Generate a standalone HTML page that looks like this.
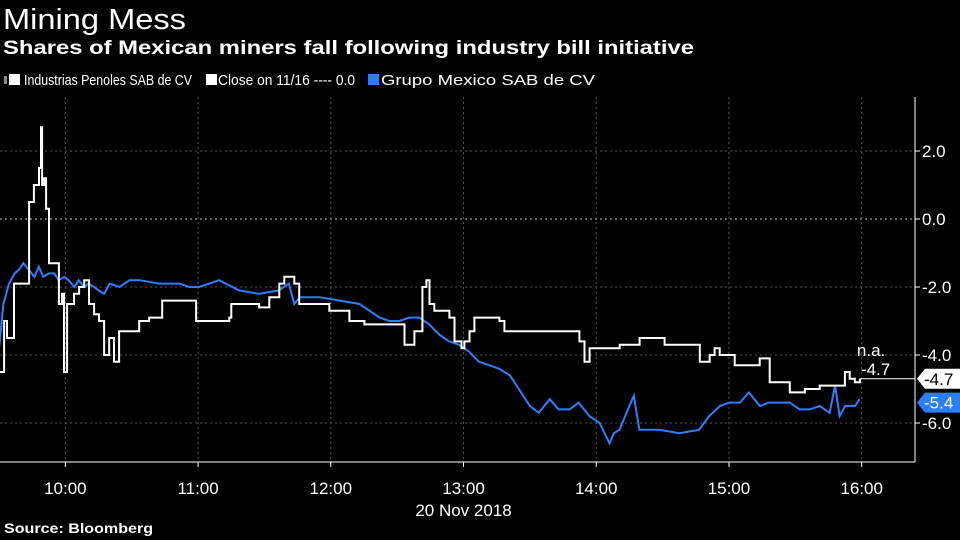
<!DOCTYPE html>
<html><head><meta charset="utf-8">
<style>
body{margin:0;background:#000;width:960px;height:540px;overflow:hidden;font-family:"Liberation Sans",sans-serif;color:#fff}
svg{position:absolute;left:0;top:0}
</style></head>
<body>
<svg id="chart" width="960" height="540">
<text x="3" y="29" font-size="29" fill="#fff" textLength="183" lengthAdjust="spacingAndGlyphs">Mining Mess</text>
<text x="3" y="54" font-size="19" font-weight="bold" fill="#fff" textLength="691" lengthAdjust="spacingAndGlyphs">Shares of Mexican miners fall following industry bill initiative</text>
<g font-size="15" fill="#fff">
<rect x="4" y="76" width="3" height="8" fill="#888"/>
<rect x="9" y="74" width="11" height="11" fill="#fff"/>
<text x="24" y="85" textLength="168" lengthAdjust="spacingAndGlyphs">Industrias Penoles SAB de CV</text>
<rect x="206" y="74" width="11" height="11" fill="#fff"/>
<text x="218" y="85" textLength="137" lengthAdjust="spacingAndGlyphs">Close on 11/16 ---- 0.0</text>
<rect x="368" y="74" width="11" height="11" fill="#2a7fff"/>
<text x="381" y="85" textLength="214" lengthAdjust="spacingAndGlyphs">Grupo Mexico SAB de CV</text>
</g>
<g id="grid"></g>
<g id="axes"></g>
<g id="series"></g>
<text x="4" y="533" font-size="14" font-weight="bold" fill="#fff" textLength="149" lengthAdjust="spacingAndGlyphs">Source: Bloomberg</text>
</svg>
<script>
const yTicks=[2,0,-2,-4,-6];
const xTickLabels=["10:00","11:00","12:00","13:00","14:00","15:00","16:00"];
const xTickMinutes=[30,90,150,210,270,330,390];
const penolesT=[0,2.3,3.6,6.8,11.3,13.6,15.8,18.1,19,19.5,20.4,21.3,22.6,24.9,27.1,28.5,29.4,30.8,33.9,36.2,38.5,40.7,43,45.2,47.5,49.8,52,54.3,58.8,63.4,67.9,73.8,79.2,86,89.1,104.1,105,117.6,122.2,126.7,129,133.5,135.7,144.8,149.3,156.1,158.4,165.2,181,183.3,187.8,190,191.4,193.2,194.6,196.8,203.6,205.9,209.1,210.4,212.7,214.9,226.2,228.5,257.9,262.4,264.7,267,271.5,280.6,289.6,298.6,300.9,312.2,316.8,321.3,323.5,325.8,332.6,339.4,343.9,348.4,357.5,364.3,371,380.1,382.4,384.6,386.9,389.2];
const penolesV=[-4.5,-3.0,-3.5,-1.9,-1.9,0.5,1.0,1.5,2.7,1.0,1.2,0.3,-1.3,-1.3,-2.5,-2.2,-4.5,-2.5,-2.2,-2.0,-1.8,-2.5,-2.8,-3.0,-4.0,-3.5,-4.2,-3.3,-3.3,-3.0,-2.9,-2.4,-2.4,-2.4,-3.0,-2.9,-2.5,-2.6,-2.3,-1.9,-1.7,-1.9,-2.5,-2.5,-2.7,-2.7,-3.0,-3.1,-3.1,-3.7,-3.3,-3.3,-2.0,-1.8,-2.5,-2.7,-2.9,-3.6,-3.8,-3.6,-3.3,-2.9,-3.0,-3.3,-3.3,-3.6,-4.2,-3.8,-3.8,-3.7,-3.5,-3.5,-3.7,-3.7,-4.2,-4.0,-3.8,-4.0,-4.3,-4.3,-4.1,-4.8,-5.1,-5.0,-4.9,-4.9,-4.5,-4.7,-4.8,-4.7];
const grupoT=[0,2,4.5,7,9,11,13.5,16,18,20,22.5,25,27,29.5,31.5,34,36,38.5,40.5,43,45,47.5,50,54.5,59,63.5,72.5,81.5,86,90.5,99.5,108.5,117.5,126.5,131,133.5,136,145,154,163,167.5,172,176.5,181,185.5,190,194.5,199,203.5,208,212.5,217,221.5,226,231,235,240,244,249,253,258,262,267,271.5,276,278,280.5,285,287,289.5,298.5,307.5,316.5,321,326,330,335,339,344,348,357.5,362,366.5,371,375.5,378,380,382.5,387,389];
const grupoV=[-3.8,-2.5,-1.9,-1.6,-1.5,-1.3,-1.5,-1.7,-1.4,-1.7,-1.6,-1.6,-1.8,-1.7,-1.8,-2.0,-1.8,-2.0,-1.9,-2.0,-2.1,-2.2,-1.9,-2.0,-1.8,-1.8,-1.9,-1.9,-2.0,-2.0,-1.8,-2.1,-2.2,-2.1,-1.9,-2.5,-2.3,-2.3,-2.4,-2.5,-2.7,-2.9,-3.0,-3.0,-2.9,-2.9,-3.1,-3.4,-3.6,-3.7,-3.9,-4.2,-4.3,-4.4,-4.6,-5.0,-5.5,-5.7,-5.3,-5.6,-5.6,-5.4,-5.8,-6.0,-6.6,-6.3,-6.2,-5.5,-5.2,-6.2,-6.2,-6.3,-6.2,-5.8,-5.5,-5.4,-5.4,-5.1,-5.5,-5.4,-5.4,-5.6,-5.6,-5.5,-5.7,-4.9,-5.8,-5.5,-5.5,-5.3];
const penolesLast=-4.7, grupoLast=-5.4;

const NS="http://www.w3.org/2000/svg";
const X0=-1,XS=2.212,Y0=219,YS=34,RIGHT=915,TOP=97,BOT=462;
const x=m=>X0+m*XS, y=v=>Y0-v*YS;
function mk(tag,attrs,parent){const e=document.createElementNS(NS,tag);for(const k in attrs)e.setAttribute(k,attrs[k]);parent.appendChild(e);return e;}
const grid=document.getElementById('grid'),axes=document.getElementById('axes'),series=document.getElementById('series');
yTicks.forEach(v=>{
  const l=mk('line',{x1:0,x2:RIGHT,y1:y(v),y2:y(v),stroke:v===0?'#ccc':'#555','stroke-dasharray':'2,3','stroke-width':1},grid);
  
  
  mk('line',{x1:RIGHT,x2:RIGHT+5,y1:y(v),y2:y(v),stroke:'#fff'},axes);
  const t=mk('text',{x:RIGHT+7,y:y(v)+6,'font-size':17,fill:'#fff'},axes);
  t.textContent=v.toFixed(1);
  
  
});
xTickMinutes.forEach((m,i)=>{
  const l=mk('line',{x1:x(m),x2:x(m),y1:TOP,y2:BOT,stroke:'#555','stroke-dasharray':'2,3'},grid);
  
  
  mk('line',{x1:x(m),x2:x(m),y1:BOT,y2:BOT+5,stroke:'#fff'},axes);
  const t=mk('text',{x:x(m),y:BOT+32,'font-size':17,fill:'#fff','text-anchor':'middle'},axes);
  t.textContent=xTickLabels[i];
  
  
});
mk('line',{x1:RIGHT,x2:RIGHT,y1:TOP,y2:BOT,stroke:'#fff'},axes);
mk('line',{x1:0,x2:RIGHT,y1:BOT,y2:BOT,stroke:'#fff'},axes);
const dl=mk('text',{x:x(210),y:516,'font-size':17,fill:'#fff','text-anchor':'middle'},axes);
dl.textContent='20 Nov 2018';


function line(T,V,color,name,step){
  let d='';
  T.forEach((t,i)=>{
    if(i===0){d+='M'+x(t).toFixed(1)+','+y(V[i]).toFixed(1);return;}
    if(step) d+='L'+x(t).toFixed(1)+','+y(V[i-1]).toFixed(1);
    d+='L'+x(t).toFixed(1)+','+y(V[i]).toFixed(1);
  });
  const p=mk('path',{d,fill:'none',stroke:color,'stroke-width':2,'stroke-linejoin':'miter'},series);
  
  
}
line(grupoT,grupoV,'#2a7fff','grupo-mexico-line',false);
line(penolesT,penolesV,'#fff','penoles-line',true);
const lx=x(penolesT[penolesT.length-1]);
mk('line',{x1:lx,x2:RIGHT,y1:y(penolesLast),y2:y(penolesLast),stroke:'#fff'},series);
const na=mk('text',{x:lx-3,y:y(penolesLast)-23,'font-size':17,fill:'#fff'},series);
na.textContent='n.a.';


const cl=mk('text',{x:lx+1,y:y(penolesLast)-4,'font-size':17,fill:'#fff'},series);
cl.textContent=penolesLast.toFixed(1);


function tag(v,bg,fg,name){
  const yy=y(v);
  const g=mk('g',{},series);
  
  
  mk('path',{d:`M${RIGHT+2},${yy} L${RIGHT+10},${yy-10} L960,${yy-10} L960,${yy+10} L${RIGHT+10},${yy+10} Z`,fill:bg},g);
  const t=mk('text',{x:RIGHT+9,y:yy+6,'font-size':17,fill:fg},g);
  t.textContent=v.toFixed(1);
}
tag(grupoLast,'#2a7fff','#fff','grupo-last-tag');
tag(penolesLast,'#fff','#000','penoles-last-tag');
</script>
</body></html>
